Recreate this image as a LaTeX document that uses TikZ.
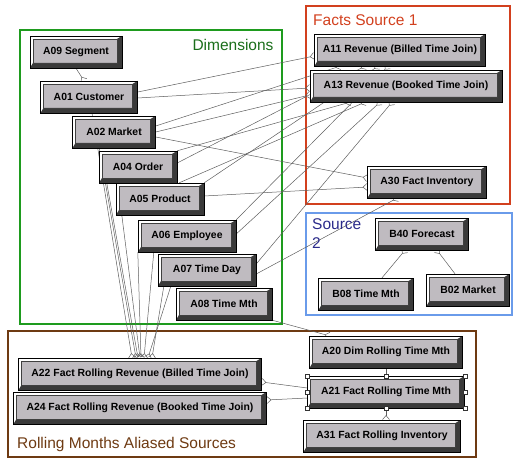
\documentclass[tikz,border=0pt]{standalone}
\usepackage{fontspec}
\setmainfont{Liberation Sans}
\usetikzlibrary{arrows.meta,backgrounds,positioning}

\definecolor{entgray}{HTML}{BFBBC0}
\definecolor{bevdark}{HTML}{3A3A3A}
\definecolor{dimgreen}{HTML}{1E9B1E}
\definecolor{dimtext}{HTML}{1A6E1A}
\definecolor{factred}{HTML}{D2401E}
\definecolor{srcblue}{HTML}{6A9BEA}
\definecolor{srctext}{HTML}{2A2A8A}
\definecolor{rollbrown}{HTML}{6E3A12}
\definecolor{linegray}{HTML}{5E5E5E}

\begin{document}
\begin{tikzpicture}[x=1pt,y=-1pt,node distance=35pt]
\tikzstyle{ent}=[rectangle, draw=black, line width=0.4pt, fill=entgray,
  minimum height=32pt, inner xsep=2pt,
  font=\fontsize{10.4}{12}\selectfont\bfseries,
  path picture={
    \fill[white] (path picture bounding box.south west) -- (path picture bounding box.north west)
      -- (path picture bounding box.north east) -- ([xshift=-5pt,yshift=-3pt]path picture bounding box.north east)
      -- ([xshift=3pt,yshift=-3pt]path picture bounding box.north west) -- ([xshift=3pt,yshift=5pt]path picture bounding box.south west) -- cycle;
    \fill[bevdark] (path picture bounding box.south west) -- (path picture bounding box.south east)
      -- (path picture bounding box.north east) -- ([xshift=-5pt,yshift=-3pt]path picture bounding box.north east)
      -- ([xshift=-5pt,yshift=5pt]path picture bounding box.south east) -- ([xshift=3pt,yshift=5pt]path picture bounding box.south west) -- cycle;
    \draw[black!75, line width=0.3pt] ([xshift=3pt,yshift=5pt]path picture bounding box.south west)
      rectangle ([xshift=-5pt,yshift=-3pt]path picture bounding box.north east);
  }]
\tikzstyle{grplabel}=[font=\fontsize{15.5}{19}\selectfont, inner sep=0pt]
\tikzstyle{rel}=[draw=linegray, line width=0.5pt]
\tikzstyle{many}=[-{Straight Barb[reversed,length=4pt,width=7pt]}]
\tikzstyle{handle}=[rectangle, draw=black!80, fill=white, line width=0.4pt, minimum size=4pt, inner sep=0pt]

\useasboundingbox (0,0) rectangle (516,465);

% dimensions staircase
\node (A09) [ent, minimum width=92pt] at (76,52) {A09 Segment};
\node (A01) [ent, minimum width=97pt, below of=A09, xshift=13pt, yshift=-10pt] {A01 Customer};
\node (A02) [ent, minimum width=83pt, below of=A01, xshift=25pt] {A02 Market};
\node (A04) [ent, minimum width=78pt, below of=A02, xshift=24pt] {A04 Order};
\node (A05) [ent, minimum width=88pt, below of=A04, xshift=22pt, yshift=3pt] {A05 Product};
\node (A06) [ent, minimum width=98pt, below of=A05, xshift=27pt, yshift=-2pt] {A06 Employee};
\node (A07) [ent, minimum width=98pt, below of=A06, xshift=20pt, yshift=1pt] {A07 Time Day};
\node (A08) [ent, minimum width=96pt, below of=A07, xshift=17pt, yshift=1pt] {A08 Time Mth};

% facts source 1
\node (A11) [ent, minimum width=171pt] at (400,50) {A11 Revenue (Billed Time Join)};
\node (A13) [ent, minimum width=192pt, below of=A11, xshift=6pt, yshift=-1pt] {A13 Revenue (Booked Time Join)};
\node (A30) [ent, minimum width=119pt] at (427,182) {A30 Fact Inventory};

% source 2
\node (B40) [ent, minimum width=93pt] at (422,234) {B40 Forecast};
\node (B08) [ent, minimum width=95pt] at (366,294) {B08 Time Mth};
\node (B02) [ent, minimum width=83pt] at (468,290) {B02 Market};

% rolling months
\node (A22) [ent, minimum width=243pt] at (140,374) {A22 Fact Rolling Revenue (Billed Time Join)};
\node (A24) [ent, minimum width=253pt, below of=A22, yshift=1pt] {A24 Fact Rolling Revenue (Booked Time Join)};
\node (A20) [ent, minimum width=153pt] at (386,352) {A20 Dim Rolling Time Mth};
\node (A21) [ent, minimum width=157pt, below of=A20, yshift=-5pt] {A21 Fact Rolling Time Mth};
\node (A31) [ent, minimum width=157pt, below of=A21, xshift=-4pt, yshift=-9pt] {A31 Fact Rolling Inventory};

% selection handles
\foreach \a/\n in {north west/hnw, north/hn, north east/hne, west/hw, east/he, south west/hsw, south/hs, south east/hse}
  \node (\n) [handle] at (A21.\a) {};

% group labels
\node (dimlabel) [grplabel, text=dimtext] at (233,45) {Dimensions};
\node (factlabel) [grplabel, text=factred, anchor=west] at (313,20) {Facts Source 1};
\node (srclabel) [grplabel, text=srctext, anchor=north west, align=left] at (312,218) {Source\\2};
\node (rolllabel) [grplabel, text=rollbrown, anchor=west] at (17,444) {Rolling Months Aliased Sources};

\begin{scope}[on background layer]
% group frames
\draw[dimgreen, line width=2pt] (20,30) rectangle (282,324);
\draw[factred, line width=2pt] (306,6) rectangle (510,204);
\draw[srcblue, line width=2pt] (306,213) rectangle (512,315);
\draw[rollbrown, line width=2pt] (8,331) rectangle (476,457);

% dimensions to revenue facts
\draw[rel, many] ([yshift=5pt]A01.east) -- ([yshift=-6pt]A11.west);
\draw[rel, many] ([yshift=-1pt]A01.east) -- ([yshift=-2pt]A13.west);
\draw[rel, many] ([yshift=6pt]A02.east) -- ([xshift=-60pt]A11.south);
\draw[rel, many] (A02.east) -- ([yshift=-9pt]A13.west);
\draw[rel, many] ([yshift=-5pt]A02.east) -- ([yshift=4pt]A30.west);
\draw[rel, many] ([yshift=4pt]A04.east) -- ([xshift=-35pt]A11.south);
\draw[rel, many] (A04.north east) -- ([xshift=-56pt]A13.south);
\draw[rel, many] (A05.north east) -- ([xshift=-22pt]A11.south);
\draw[rel, many] ([xshift=-25pt]A05.north east) -- ([xshift=-41pt]A13.south);
\draw[rel, many] ([yshift=3pt]A05.east) -- ([yshift=-5pt]A30.west);
\draw[rel, many] (A06.north east) -- ([xshift=-12pt]A11.south);
\draw[rel, many] ([yshift=2pt]A06.east) -- ([xshift=-26pt]A13.south);
\draw[rel, many] ([yshift=6pt]A07.east) -- ([xshift=-14pt]A13.south);
\draw[rel, many] ([yshift=-4pt]A07.east) -- ([xshift=-30pt]A30.south);
\draw[rel, many] (A08.south east) -- ([xshift=20pt]A20.north west);
\draw[rel, many] (A09.south) -- ([xshift=-5pt]A01.north);

% dimensions to rolling revenue
\draw[rel, many] ([xshift=3pt]A01.south) -- ([xshift=-8pt]A22.north);
\draw[rel, many] ([xshift=27pt]A02.south west) -- ([xshift=-4pt]A22.north);
\draw[rel, many] ([xshift=8pt]A04.south west) -- ([xshift=-2pt]A22.north);
\draw[rel, many] ([xshift=6pt]A05.south west) -- (A22.north);
\draw[rel, many] (A06.south west) -- ([xshift=1pt]A22.north);
\draw[rel, many] ([xshift=16pt]A06.south west) -- ([xshift=4pt]A22.north);
\draw[rel, many] ([xshift=6pt]A07.south west) -- ([xshift=12pt]A22.north);
\draw[rel, many] ([xshift=13pt]A07.south west) -- ([xshift=8pt]A22.north);

% rolling months
\draw[rel, many] ([yshift=4pt]A21.west) -- ([yshift=-8pt]A22.east);
\draw[rel, many] ([yshift=-6pt]A21.west) -- ([yshift=8pt]A24.east);
\draw[rel] (A20.south) -- (A21.north);
\draw[rel, many] (A21.south) -- ([xshift=4pt]A31.north);

% source 2
\draw[rel, many] ([xshift=16pt]B08.north) -- ([xshift=-17pt]B40.south);
\draw[rel, many] ([xshift=-13pt]B02.north) -- ([xshift=15pt]B40.south);
\end{scope}
\end{tikzpicture}
\end{document}
